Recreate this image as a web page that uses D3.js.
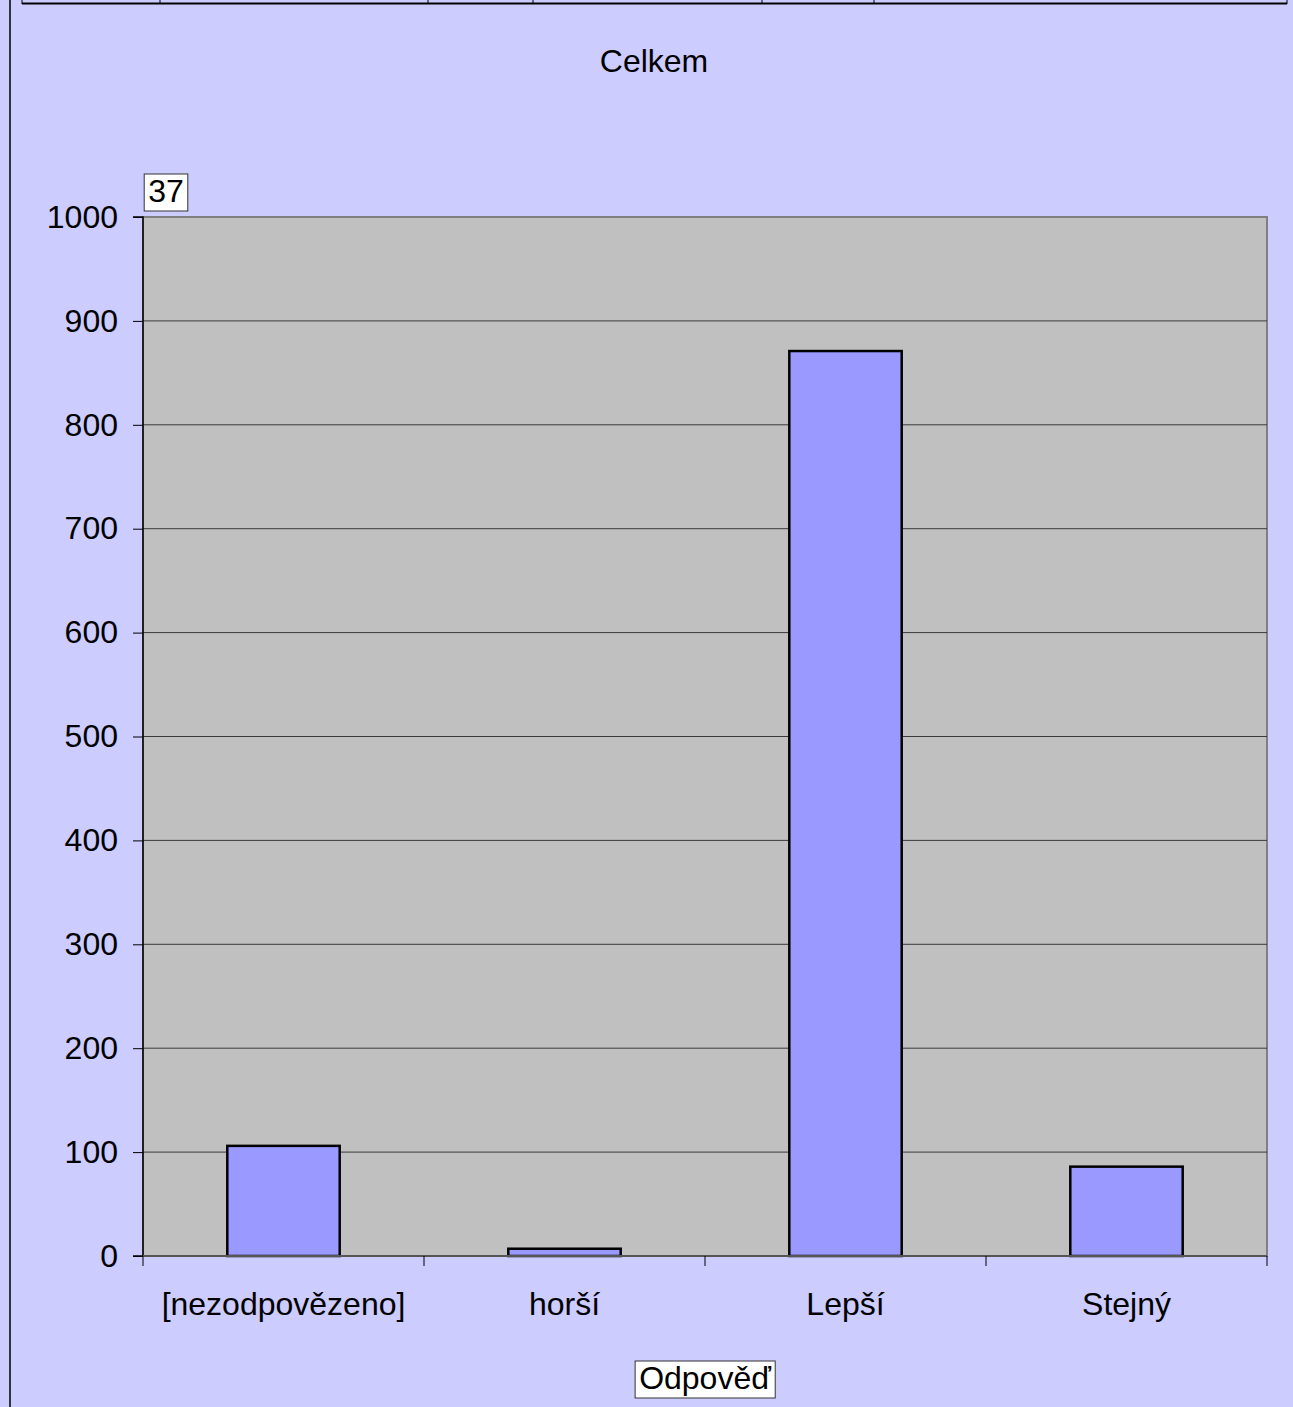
<!DOCTYPE html>
<html><head><meta charset="utf-8">
<script src="https://cdn.jsdelivr.net/npm/d3@7"></script>
<style>html,body{margin:0;padding:0;background:#CCCCFF;}svg{display:block;}</style>
</head><body>
<script>
const categories = ["[nezodpovězeno]", "horší", "Lepší", "Stejný"];
const values = [106, 7, 871, 86];
const yTicks = [0, 100, 200, 300, 400, 500, 600, 700, 800, 900, 1000];
const title = "Celkem";
const xTitle = "Odpověď";
const yTitle = "37";
const tableCols = [22, 160, 428, 533, 762, 874, 1287];

const W = 1293, H = 1407;
const m = {left: 143, right: 1267, top: 217, bottom: 1256};
const font = "'Liberation Sans', Arial, sans-serif";
const fs = 32;

const svg = d3.select("body").append("svg").attr("width", W).attr("height", H);
svg.append("rect").attr("width", W).attr("height", H).attr("fill", "#CCCCFF");
// page left border
svg.append("line").attr("x1", 10).attr("x2", 10).attr("y1", 0).attr("y2", H).attr("stroke", "#000").attr("stroke-width", 1.5);
// top table strip
svg.append("line").attr("x1", tableCols[0]).attr("x2", tableCols[tableCols.length-1]).attr("y1", 3.5).attr("y2", 3.5).attr("stroke", "#000").attr("stroke-width", 2);
tableCols.forEach(x => svg.append("line").attr("x1", x).attr("x2", x).attr("y1", 0).attr("y2", 4).attr("stroke", "#000").attr("stroke-width", 1));

const xb = d3.scaleBand().domain(categories).range([m.left, m.right]);
const y = d3.scaleLinear().domain([0, 1000]).range([m.bottom, m.top]);

// plot area
svg.append("rect").attr("x", m.left).attr("y", m.top).attr("width", m.right - m.left).attr("height", m.bottom - m.top)
  .attr("fill", "#C0C0C0").attr("stroke", "#808080").attr("stroke-width", 2);

// gridlines
svg.append("g").selectAll("line").data(yTicks.filter(t => t > 0 && t < 1000)).join("line")
  .attr("x1", m.left).attr("x2", m.right).attr("y1", d => y(d)).attr("y2", d => y(d))
  .attr("stroke", "#3a3a3a").attr("stroke-width", 1);

// bars
svg.append("g").selectAll("rect").data(values).join("rect")
  .attr("x", (d, i) => xb(categories[i]) + xb.bandwidth() * 0.3)
  .attr("width", xb.bandwidth() * 0.4)
  .attr("y", d => y(d)).attr("height", d => y(0) - y(d))
  .attr("fill", "#9999FF").attr("stroke", "#000").attr("stroke-width", 2.5);

// y axis
const yAxis = d3.axisLeft(y).tickValues(yTicks).tickFormat(d3.format("d")).tickSize(10).tickPadding(15);
const gy = svg.append("g").attr("transform", `translate(${m.left},0)`).call(yAxis);
gy.select(".domain").attr("stroke", "#000").attr("stroke-width", 1.5).attr("d", `M-10,${m.top}H0V${m.bottom}H-10`);
gy.selectAll(".tick line").attr("stroke", "#000");
gy.selectAll("text").attr("font-family", font).attr("font-size", fs).attr("fill", "#000");

// x axis
const xAxisG = svg.append("g").attr("transform", `translate(0,${m.bottom})`);
xAxisG.append("line").attr("x1", m.left).attr("x2", m.right).attr("y1", 0).attr("y2", 0).attr("stroke", "#555").attr("stroke-width", 2);
const xTickPos = categories.map(c => xb(c)).concat([m.right]);
xAxisG.selectAll("line.t").data(xTickPos).join("line").attr("class", "t")
  .attr("x1", d => d).attr("x2", d => d).attr("y1", 0).attr("y2", 10).attr("stroke", "#000").attr("stroke-width", 1);
xAxisG.selectAll("text").data(categories).join("text")
  .attr("x", d => xb(d) + xb.bandwidth() / 2).attr("y", 59)
  .attr("text-anchor", "middle").attr("font-family", font).attr("font-size", fs).attr("fill", "#000").text(d => d);

// title
svg.append("text").attr("x", 654).attr("y", 72).attr("text-anchor", "middle")
  .attr("font-family", font).attr("font-size", fs).attr("fill", "#000").text(title);

// labeled boxes
function boxLabel(txt, cx, cy) {
  const g = svg.append("g");
  const t = g.append("text").attr("x", cx).attr("y", cy).attr("text-anchor", "middle")
    .attr("font-family", font).attr("font-size", fs).attr("fill", "#000").text(txt);
  const bb = t.node().getBBox();
  g.insert("rect", "text").attr("x", bb.x - 4).attr("y", bb.y + 1).attr("width", bb.width + 8).attr("height", bb.height + 1)
    .attr("fill", "#fff").attr("stroke", "#333").attr("stroke-width", 1);
}
boxLabel(yTitle, 166, 202);
boxLabel(xTitle, 705, 1389);
</script>
</body></html>
